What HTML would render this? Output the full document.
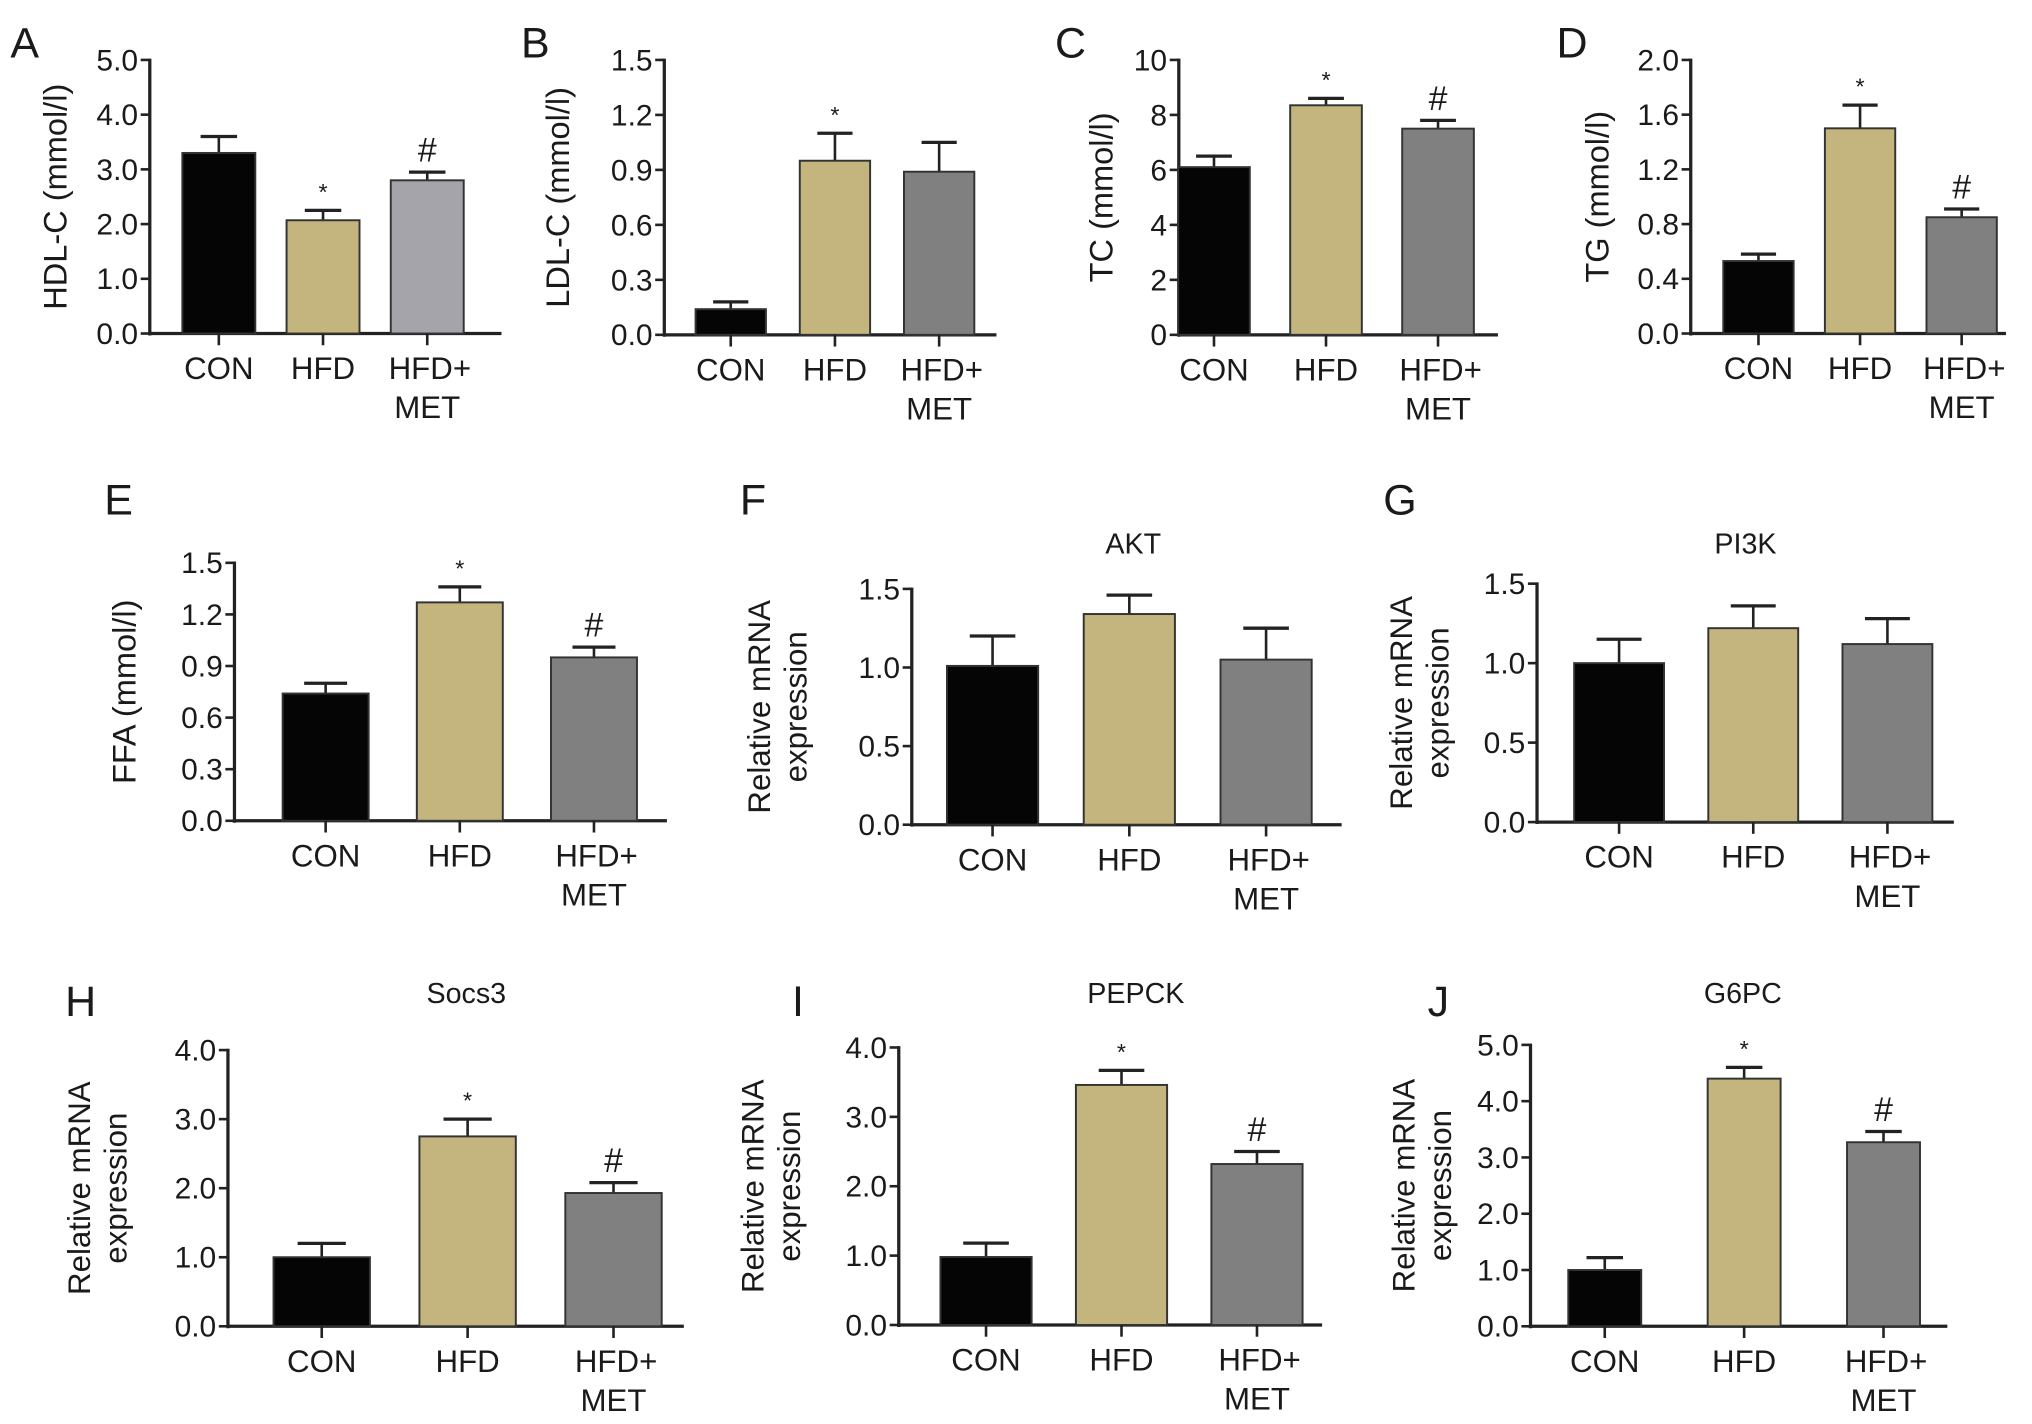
<!DOCTYPE html>
<html><head><meta charset="utf-8"><style>
html,body{margin:0;padding:0;background:#fff;}
svg{display:block;}
text{font-family:"Liberation Sans",Arial,sans-serif;fill:#1a1a1a;}
</style></head><body>
<svg id="fig" width="2032" height="1424" viewBox="0 0 1560 1093" preserveAspectRatio="none" xmlns="http://www.w3.org/2000/svg"></svg>
<script>
// ---- data ----
const categories = ["CON","HFD","HFD+MET"];
const hdlValues = [3.3, 2.07, 2.8];
const hdlErrors = [0.3, 0.18, 0.15];
const hdlTicks = ["0.0","1.0","2.0","3.0","4.0","5.0"];
const ldlValues = [0.14, 0.95, 0.89];
const ldlErrors = [0.04, 0.15, 0.16];
const ldlTicks = ["0.0","0.3","0.6","0.9","1.2","1.5"];
const tcValues = [6.1, 8.35, 7.5];
const tcErrors = [0.4, 0.25, 0.3];
const tcTicks = ["0","2","4","6","8","10"];
const tgValues = [0.53, 1.5, 0.85];
const tgErrors = [0.05, 0.17, 0.06];
const tgTicks = ["0.0","0.4","0.8","1.2","1.6","2.0"];
const ffaValues = [0.74, 1.27, 0.95];
const ffaErrors = [0.06, 0.09, 0.06];
const ffaTicks = ["0.0","0.3","0.6","0.9","1.2","1.5"];
const aktValues = [1.01, 1.34, 1.05];
const aktErrors = [0.19, 0.12, 0.2];
const aktTicks = ["0.0","0.5","1.0","1.5"];
const pi3kValues = [1.0, 1.22, 1.12];
const pi3kErrors = [0.15, 0.14, 0.16];
const pi3kTicks = ["0.0","0.5","1.0","1.5"];
const socs3Values = [1.0, 2.75, 1.93];
const socs3Errors = [0.2, 0.25, 0.15];
const socs3Ticks = ["0.0","1.0","2.0","3.0","4.0"];
const pepckValues = [0.98, 3.46, 2.32];
const pepckErrors = [0.2, 0.21, 0.18];
const pepckTicks = ["0.0","1.0","2.0","3.0","4.0"];
const g6pcValues = [1.0, 4.4, 3.27];
const g6pcErrors = [0.22, 0.2, 0.19];
const g6pcTicks = ["0.0","1.0","2.0","3.0","4.0","5.0"];
const hdlMarks = ["","*","#"];
const ldlMarks = ["","*",""];
const tcMarks = ["","*","#"];
const tgMarks = ["","*","#"];
const ffaMarks = ["","*","#"];
const aktMarks = ["","",""];
const pi3kMarks = ["","",""];
const socs3Marks = ["","*","#"];
const pepckMarks = ["","*","#"];
const g6pcMarks = ["","*","#"];

const NS="http://www.w3.org/2000/svg";
const svg=document.getElementById('fig');
function mk(tag,attrs,parent){const e=document.createElementNS(NS,tag);for(const k in attrs)e.setAttribute(k,attrs[k]);(parent||svg).appendChild(e);return e;}
function txt(s,attrs,parent){const e=mk('text',attrs,parent);e.textContent=s;return e;}
const fills=["#050505","#c4b57e","#808080"];

function panel(p){
  const g=mk('g',{});
  
  
  const yMax=parseFloat(p.ticks[p.ticks.length-1]);
  const y=v=>p.y0-(v/yMax)*(p.y0-p.yTop);
  const lab=txt(p.id,{x:p.lx,y:p.ly,'font-size':33},g);
  
  
  if(p.title){const t=txt(p.title,{x:p.tx,y:p.ty,'font-size':22,'text-anchor':'middle'},g);
    }
  const yt=mk('g',{transform:`translate(${p.ytx},${(p.y0+p.yTop)/2}) rotate(-90)`},g);
  
  if(p.ytitle2){txt(p.ytitle,{x:0,y:-6,'font-size':24,'text-anchor':'middle'},yt);txt(p.ytitle2,{x:0,y:22,'font-size':24,'text-anchor':'middle'},yt);}
  else txt(p.ytitle,{x:0,y:9,'font-size':25,'text-anchor':'middle'},yt);
  const ya=mk('line',{x1:p.ax,y1:p.yTop-1,x2:p.ax,y2:p.y0+1.5,stroke:'#222','stroke-width':2.5},g);
  
  const xa=mk('line',{x1:p.ax,y1:p.y0,x2:p.xEnd,y2:p.y0,stroke:'#222','stroke-width':2.5},g);
  
  p.ticks.forEach(t=>{const v=parseFloat(t);const yy=y(v);
    mk('line',{x1:p.ax-7,y1:yy,x2:p.ax,y2:yy,stroke:'#222','stroke-width':2},g);
    const tl=txt(t,{x:p.ax-9,y:yy+8,'font-size':23,'text-anchor':'end'},g);
    
  });
  p.values.forEach((v,i)=>{
    const cx=p.ax+p.off+p.step*i;
    const w=p.bw;
    const top=y(v), et=y(v+p.errors[i]);
    const el=mk('line',{x1:cx,y1:top,x2:cx,y2:et,stroke:'#222','stroke-width':2},g);
    
    mk('line',{x1:cx-w*0.25,y1:et,x2:cx+w*0.25,y2:et,stroke:'#222','stroke-width':2.5},g);
    const r=mk('rect',{x:cx-w/2,y:top,width:w,height:p.y0-top,fill:(p.fills||fills)[i],stroke:'#333','stroke-width':1.5},g);
    
    
    mk('line',{x1:cx,y1:p.y0,x2:cx,y2:p.y0+9,stroke:'#222','stroke-width':2},g);
    const m=p.marks[i];
    if(m){const mt=txt(m,{x:cx,y:et-8,'font-size':m==='*'?18:26,'text-anchor':'middle'},g);
      }
    const c=categories[i];
    if(c==='HFD+MET'){
      const a=txt('HFD+',{x:cx+2,y:p.y0+35,'font-size':24,'text-anchor':'middle'},g);
      
      const b=txt('MET',{x:cx,y:p.y0+65,'font-size':24,'text-anchor':'middle'},g);
      
    } else {
      const a=txt(c,{x:cx,y:p.y0+35,'font-size':24,'text-anchor':'middle'},g);
      
    }
  });
}
panel({id:'A',lx:8,ly:44,ax:115,yTop:46,y0:256,xEnd:385,off:53,step:80,bw:56,values:hdlValues,errors:hdlErrors,ticks:hdlTicks,marks:hdlMarks,ytitle:'HDL-C (mmol/l)',ytx:42,fills:["#050505","#c4b57e","#a4a4aa"]});
panel({id:'B',lx:400,ly:44,ax:510,yTop:46,y0:257,xEnd:765,off:51,step:80,bw:54,values:ldlValues,errors:ldlErrors,ticks:ldlTicks,marks:ldlMarks,ytitle:'LDL-C (mmol/l)',ytx:428});
panel({id:'C',lx:810,ly:44,ax:905,yTop:46,y0:257,xEnd:1150,off:27,step:86,bw:55,values:tcValues,errors:tcErrors,ticks:tcTicks,marks:tcMarks,ytitle:'TC (mmol/l)',ytx:845});
panel({id:'D',lx:1195,ly:44,ax:1298,yTop:46,y0:256,xEnd:1540,off:52,step:78,bw:54,values:tgValues,errors:tgErrors,ticks:tgTicks,marks:tgMarks,ytitle:'TG (mmol/l)',ytx:1226});
panel({id:'E',lx:80,ly:395,ax:180,yTop:432,y0:630,xEnd:512,off:70,step:103,bw:66,values:ffaValues,errors:ffaErrors,ticks:ffaTicks,marks:ffaMarks,ytitle:'FFA (mmol/l)',ytx:95});
panel({id:'F',lx:568,ly:395,ax:700,yTop:452,y0:633,xEnd:1030,off:62,step:105,bw:70,values:aktValues,errors:aktErrors,ticks:aktTicks,marks:aktMarks,ytitle:'Relative mRNA',ytitle2:'expression',ytx:597,title:'AKT',tx:870,ty:425});
panel({id:'G',lx:1062,ly:395,ax:1180,yTop:448,y0:631,xEnd:1500,off:63,step:103,bw:69,values:pi3kValues,errors:pi3kErrors,ticks:pi3kTicks,marks:pi3kMarks,ytitle:'Relative mRNA',ytitle2:'expression',ytx:1090,title:'PI3K',tx:1340,ty:425});
panel({id:'H',lx:50,ly:780,ax:175,yTop:806,y0:1018,xEnd:525,off:72,step:112,bw:74,values:socs3Values,errors:socs3Errors,ticks:socs3Ticks,marks:socs3Marks,ytitle:'Relative mRNA',ytitle2:'expression',ytx:75,title:'Socs3',tx:358,ty:770});
panel({id:'I',lx:608,ly:780,ax:690,yTop:804,y0:1017,xEnd:1015,off:67,step:104,bw:70,values:pepckValues,errors:pepckErrors,ticks:pepckTicks,marks:pepckMarks,ytitle:'Relative mRNA',ytitle2:'expression',ytx:592,title:'PEPCK',tx:872,ty:770});
panel({id:'J',lx:1096,ly:780,ax:1175,yTop:802,y0:1018,xEnd:1495,off:57,step:107,bw:56,values:g6pcValues,errors:g6pcErrors,ticks:g6pcTicks,marks:g6pcMarks,ytitle:'Relative mRNA',ytitle2:'expression',ytx:1092,title:'G6PC',tx:1338,ty:770});
</script>
</body></html>
